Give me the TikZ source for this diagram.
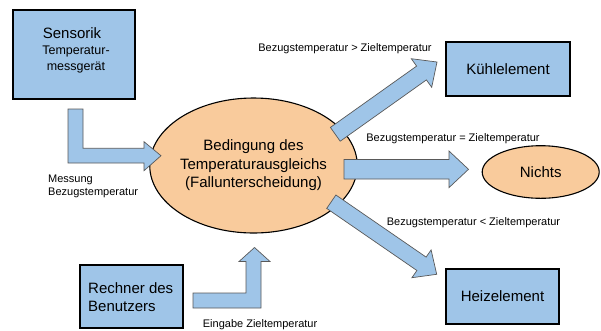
\documentclass[tikz,border=0pt]{standalone}
\usepackage{fontspec}
\setmainfont{Liberation Sans}
\usetikzlibrary{shapes.geometric}
\definecolor{boxblue}{HTML}{9FC5E8}
\definecolor{peach}{HTML}{F9CB9C}
\definecolor{arrowline}{HTML}{595959}
\begin{document}
\begin{tikzpicture}[x=1pt,y=-1pt,
  box/.style={draw=black, line width=1.4pt, fill=boxblue, inner sep=0pt,
              font=\fontsize{15}{18}\selectfont},
  blob/.style={ellipse, draw=black, line width=1.1pt, fill=peach, inner sep=0pt,
              font=\fontsize{15}{18.5}\selectfont, align=center},
  blockarrow/.style={draw=arrowline, line width=0.7pt, fill=boxblue, line join=miter},
  lab/.style={font=\fontsize{11}{13}\selectfont, inner sep=0pt},
  big/.style={font=\fontsize{15}{18}\selectfont, inner sep=0pt}]
\useasboundingbox (0,0) rectangle (601,330);

% boxes
\node[box, minimum width=122pt, minimum height=89pt] (sensorik) at (74,54.5) {};
\node[big] (senstitle) at (72,33) {Sensorik};
\node[font=\fontsize{12.5}{16}\selectfont, align=center, inner sep=0pt] (senssub) at (76,59) {Temperatur-\\messgerät};

\node[box, minimum width=124pt, minimum height=54pt] (kuehl) at (508,69) {Kühlelement};
\node[box, minimum width=113pt, minimum height=55pt] (heiz) at (502.5,296.5) {Heizelement};
\node[box, minimum width=103pt, minimum height=63pt] (rechner) at (131.5,296.5) {};
\node[big, align=left, anchor=west] (rechnertext) at (88,297.5) {Rechner des\\Benutzers};

% ellipses
\node[blob, minimum width=165pt, minimum height=135pt] (bed) at (253.5,165.5)
  {Bedingung des\\Temperaturausgleichs\\(Fallunterscheidung)};
\node[blob, minimum width=117pt, minimum height=52.6pt] (nichts) at (540.7,172) {Nichts};

% block arrows
\draw[blockarrow] (68,109) -- (83,109) -- (83,148.3) -- (144,148.3) -- (144,141.7)
  -- (161,155.7) -- (144,170.7) -- (144,163) -- (68,163) -- cycle;
\draw[blockarrow] (330.4,127.4) -- (416.6,66.1) -- (411.3,58.7) -- (437,62)
  -- (431.7,87.3) -- (426.4,79.9) -- (340.2,141.2) -- cycle;
\draw[blockarrow] (344,159.5) -- (449,159.5) -- (449,151) -- (468.5,169.3)
  -- (449,187.6) -- (449,179) -- (344,179) -- cycle;
\draw[blockarrow] (335.9,195.0) -- (426.1,257.1) -- (431.1,249.9) -- (436.7,274.3)
  -- (411.9,277.7) -- (416.9,270.5) -- (326.7,208.4) -- cycle;
\draw[blockarrow] (193,293) -- (246,293) -- (246,261.5) -- (239,261.5) -- (254.5,247.5)
  -- (270,261.5) -- (261,261.5) -- (261,308) -- (193,308) -- cycle;

% labels
\node[lab, align=left, anchor=west] (lmess) at (48,186.5) {Messung\\Bezugstemperatur};
\node[lab] (lgt) at (345,48.3) {Bezugstemperatur > Zieltemperatur};
\node[lab] (leq) at (453,138.3) {Bezugstemperatur = Zieltemperatur};
\node[lab] (llt) at (473.5,222.3) {Bezugstemperatur < Zieltemperatur};
\node[lab, anchor=west] (lein) at (202.7,325) {Eingabe Zieltemperatur};
\end{tikzpicture}
\end{document}
